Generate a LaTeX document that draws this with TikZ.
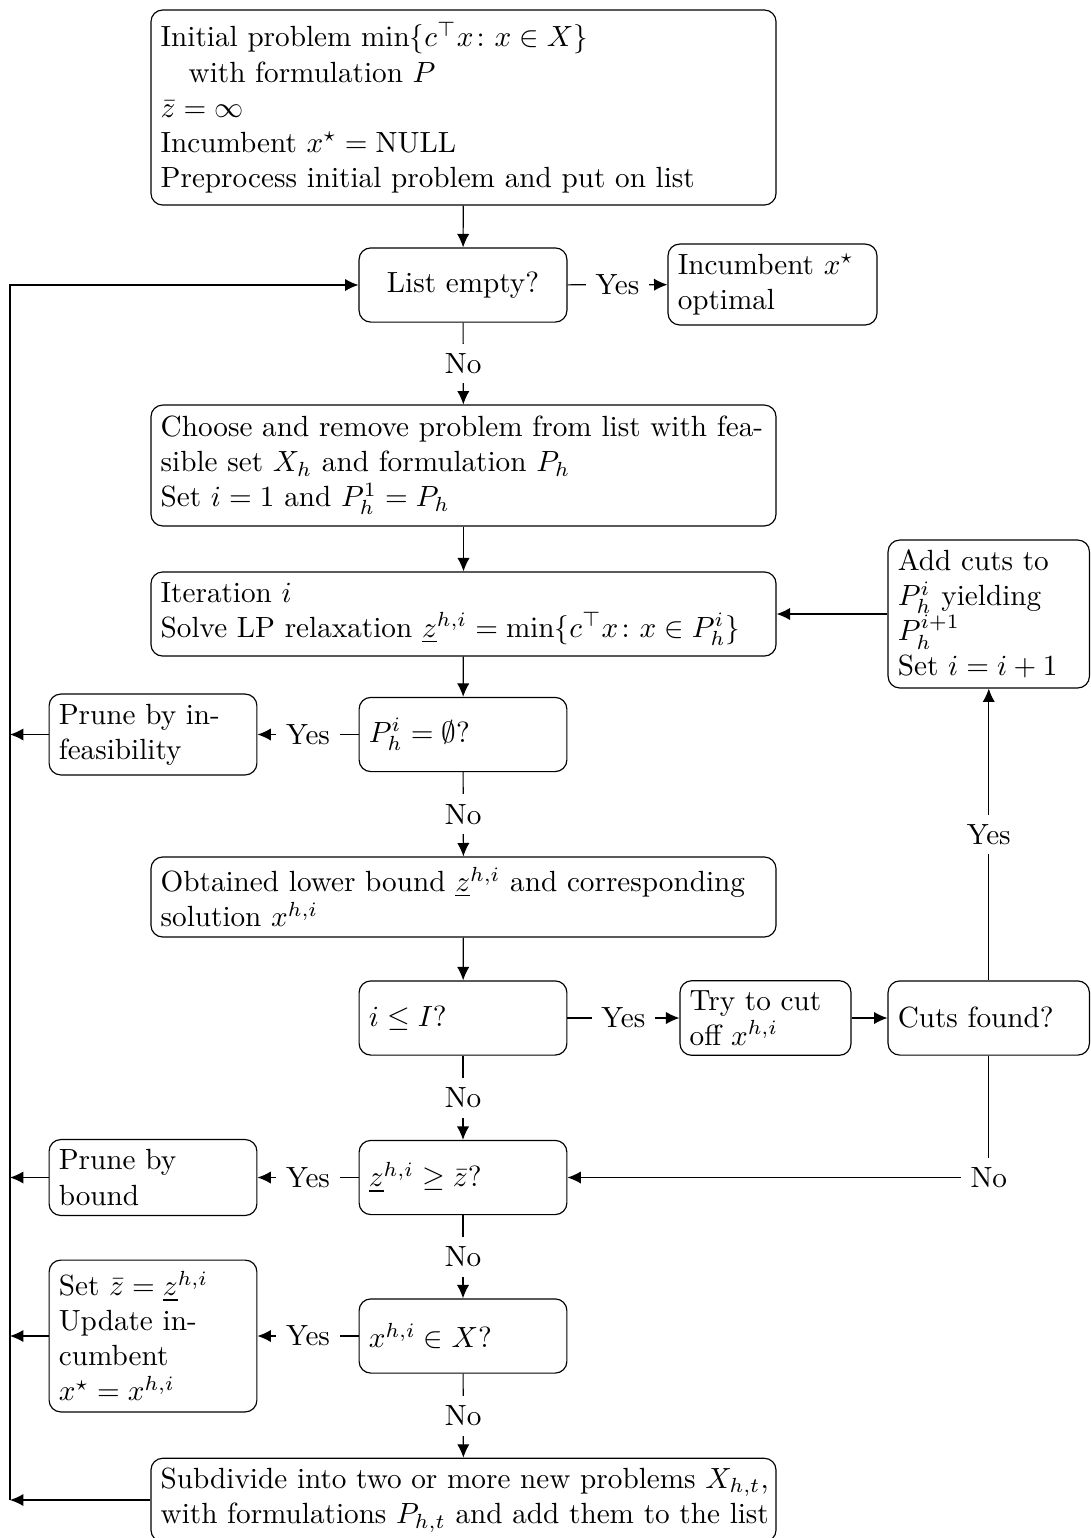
\documentclass[tikz,border=0pt]{standalone}
\usepackage{amsmath,amssymb}
\usetikzlibrary{arrows.meta}
\begin{document}
\begin{tikzpicture}[x=0.34247pt,y=-0.34247pt,
  box/.style={draw,rounded corners=4pt,align=left},
  wide/.style={box,text width=207.4pt},
  dec/.style={box,text width=64.5pt,minimum height=25.4pt},
  arr/.style={-{Latex[length=4.6pt,width=4.2pt]}},
  lbl/.style={fill=white}]
\useasboundingbox (0,0) rectangle (1090,1538);
\node[wide,minimum height=66.8pt] (init) at (463.5,107.5) {Initial problem $\min\{c^\top x\colon x\in X\}$\\\hspace*{9.6pt}with formulation $P$\\$\bar z=\infty$\\Incumbent $x^\star=\mathrm{NULL}$\\Preprocess initial problem and put on list};
\node[box,align=center,minimum width=71.2pt,minimum height=25.4pt] (list) at (463,285) {List empty?};
\node[box,text width=64.9pt,minimum height=27.7pt] (inc) at (772.5,284.5) {Incumbent $x^\star$\\optimal};
\node[wide,minimum height=41.4pt] (choose) at (463.5,465.5) {Choose and remove problem from list with fea-\\sible set $X_h$ and formulation $P_h$\\Set $i=1$ and $P_h^1=P_h$};
\node[wide,minimum height=28.8pt] (iter) at (463.5,614) {Iteration $i$\\Solve LP relaxation $\underline{z}^{h,i}=\min\{c^\top x\colon x\in P_h^i\}$};
\node[box,text width=62.3pt] (add) at (988.75,614) {Add cuts to\\$P_h^i$ yielding\\$P_h^{i+1}$\\Set $i=i+1$};
\node[dec] (pemp) at (463,734.5) {$P_h^i=\emptyset$?};
\node[box,text width=64.5pt,minimum height=27.7pt] (pinf) at (153,734.5) {Prune by in-\\feasibility};
\node[wide,minimum height=27.4pt] (obt) at (463.5,897) {Obtained lower bound $\underline{z}^{h,i}$ and corresponding\\solution $x^{h,i}$};
\node[dec] (ileq) at (463,1018) {$i\le I$?};
\node[box,text width=51.9pt,minimum height=25.4pt] (try) at (765.5,1018) {Try to cut\\off $x^{h,i}$};
\node[box,text width=62.3pt,minimum height=25.4pt] (cuts) at (988.75,1018) {Cuts found?};
\node[dec] (zge) at (463,1177.5) {$\underline{z}^{h,i}\ge\bar z$?};
\node[box,text width=64.5pt,minimum height=26pt] (pbd) at (153,1177.5) {Prune by\\bound};
\node[dec] (xin) at (463,1336) {$x^{h,i}\in X$?};
\node[box,text width=64.5pt,minimum height=52pt] (setz) at (153,1336) {Set $\bar z=\underline{z}^{h,i}$\\Update in-\\cumbent\\$x^\star=x^{h,i}$};
\node[wide,minimum height=27.4pt] (sub) at (463.5,1500) {\mbox{Subdivide into two or more new problems $X_{h,t}$,}\\\mbox{with formulations $P_{h,t}$ and add them to the list}};
\coordinate (lx) at (10,0);
\draw[arr] (init) -- (list);
\draw[arr] (list) -- node[lbl]{Yes} (inc);
\draw[arr] (list) -- node[lbl]{No} (choose);
\draw[arr] (choose) -- (iter);
\draw[arr] (iter) -- (pemp);
\draw[arr] (pemp) -- node[lbl]{Yes} (pinf);
\draw[arr] (pemp) -- node[lbl]{No} (obt);
\draw[arr] (obt) -- (ileq);
\draw[arr] (ileq) -- node[lbl]{Yes} (try);
\draw[arr] (try) -- (cuts);
\draw[arr] (cuts) -- node[lbl]{Yes} (add);
\draw[arr] (add) -- (iter);
\draw[arr] (cuts) |- node[lbl]{No} (zge);
\draw[arr] (ileq) -- node[lbl]{No} (zge);
\draw[arr] (zge) -- node[lbl]{Yes} (pbd);
\draw[arr] (zge) -- node[lbl]{No} (xin);
\draw[arr] (xin) -- node[lbl]{Yes} (setz);
\draw[arr] (xin) -- node[lbl]{No} (sub);
\draw[arr] (pinf) -- (pinf -| lx);
\draw[arr] (pbd) -- (pbd -| lx);
\draw[arr] (setz) -- (setz -| lx);
\draw[arr] (sub) -- (sub -| lx);
\draw[arr] (sub -| lx) |- (list);
\end{tikzpicture}
\end{document}
